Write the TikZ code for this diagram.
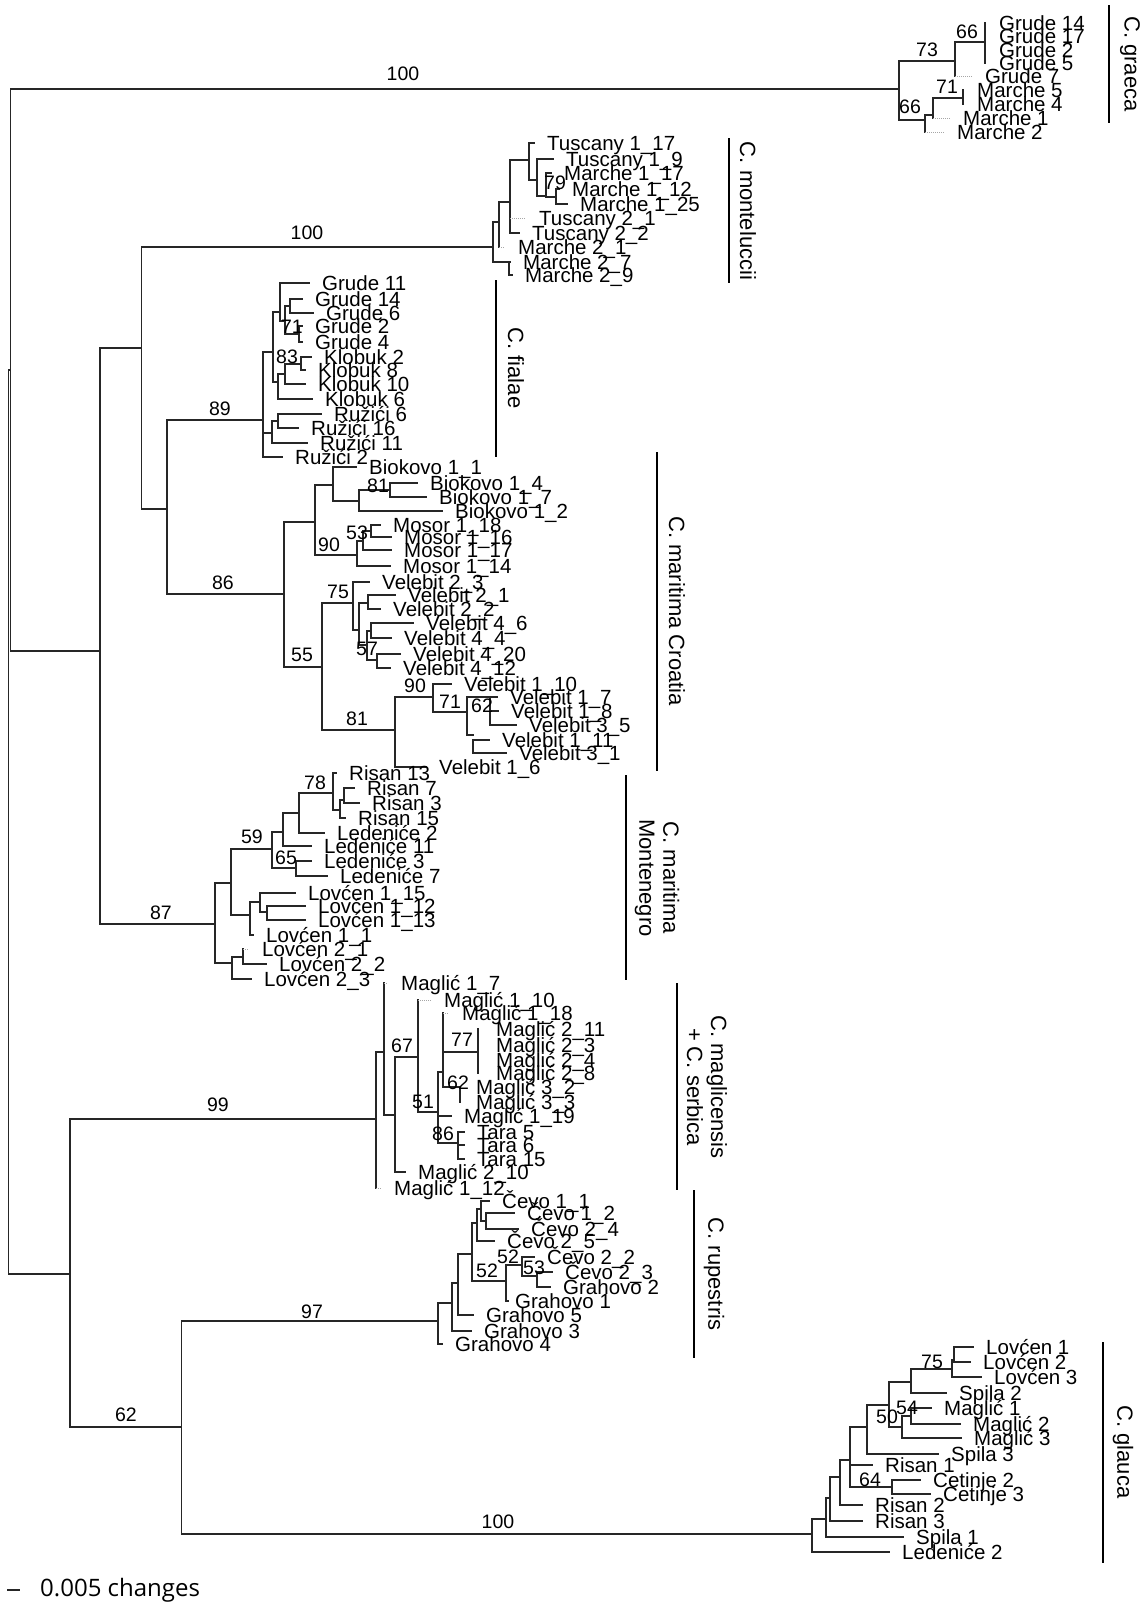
\documentclass[tikz,border=0pt]{standalone}
\usepackage{fontspec}
\setmainfont{Liberation Sans}
\newfontfamily\scalefont{Open Sans}

% branch helpers: vertical at x, horizontal at y, leaf with label, support value
\newcommand{\vln}[3]{\draw[branch] (#1,#2) -- (#1,#3);}
\newcommand{\hln}[3]{\draw[branch] (#1,#3) -- (#2,#3);}
\newcommand{\tipl}[6][13]{\draw[branch] (#3,#5) -- (#4,#5);
  \node[leaf] (#2) at ({#4+#1},{#5+7.2}) {#6};}
\newcommand{\tipg}[6][13]{\draw[faint] (#3,#5) -- (#4,#5);
  \node[leaf] (#2) at ({#4+#1},{#5+7.2}) {#6};}
\newcommand{\supp}[4]{\node[boot] (#1) at (#2,#3) {#4};}

\begin{document}
\begin{tikzpicture}[x=1pt, y=-1pt,
    branch/.style={draw=black!85, line width=1.1pt, line cap=rect},
    faint/.style={draw=black!35, line width=1pt, densely dotted},
    leaf/.style={anchor=base west, inner sep=0pt, font=\fontsize{20.5}{20.5}\selectfont},
    boot/.style={inner sep=0pt, font=\fontsize{19.5}{19.5}\selectfont},
    clade/.style={draw=black, line width=2.6pt},
    cladelab/.style={rotate=-90, align=center, inner sep=0pt,
      font=\fontsize{22}{24}\selectfont}]
  \useasboundingbox (0,0) rectangle (1142,1604);

  % ── Backbone ──
  \vln{8.3}{370}{1274}
  \hln{8.3}{10.7}{370}
  \vln{10.7}{89}{651}
  \hln{10.7}{899}{89}
  \hln{10.7}{100}{651}
  \vln{100}{348}{924}
  \hln{100}{141.7}{348}
  \vln{141.7}{247}{509}
  \hln{141.7}{493}{247}
  \hln{141.7}{167}{509}
  \vln{167}{420}{594}
  \hln{167}{263}{420}
  \hln{167}{284}{594}
  \hln{100}{215}{924}
  \hln{8.3}{70}{1274}
  \vln{70}{1119}{1427}
  \hln{70}{376}{1119}
  \hln{70}{181.7}{1427}
  \vln{181.7}{1321}{1534}
  \hln{181.7}{438}{1321}
  \hln{181.7}{812}{1534}
  \supp{b1}{403}{74}{100}
  \supp{b2}{307}{233}{100}
  \supp{b3}{220}{409}{89}
  \supp{b4}{223}{583}{86}
  \supp{b5}{161}{913}{87}
  \supp{b6}{218}{1105}{99}
  \supp{b7}{126}{1415}{62}
  \supp{b8}{312}{1312}{97}
  \supp{b9}{498}{1522}{100}

  % ── C. graeca ──
  \vln{899}{61}{120}
  \hln{899}{955}{61}
  \vln{955}{42}{76}
  \hln{955}{985}{42}
  \vln{985}{23}{63}
  \foreach \nm/\yy in {14/23, 17/36, 2/50, 5/63}
    \tipl[14]{gg\nm}{985}{985}{\yy}{Grude \nm};
  \tipg{gg7}{955}{972}{76}{Grude 7}
  \hln{899}{925}{120}
  \vln{925}{115}{132}
  \hln{925}{933}{115}
  \vln{933}{98}{118}
  \hln{933}{963}{98}
  \vln{963}{90}{104}
  \foreach \nm/\yy in {5/90, 4/104}
    \tipl[14]{gm\nm}{963}{963}{\yy}{Marche \nm};
  \tipg{gm1}{933}{950}{118}{Marche 1}
  \tipg{gm2}{925}{944}{132}{Marche 2}
  \supp{g1}{927}{50}{73}
  \supp{g2}{967}{32}{66}
  \supp{g3}{947}{87}{71}
  \supp{g4}{910}{107}{66}

  % ── C. monteluccii ──
  \vln{493}{222}{262}
  \hln{493}{499}{222}
  \hln{493}{509}{262}
  \vln{509}{262}{275}
  \tipl{m27}{509}{510}{262}{Marche 2\_7}
  \tipl{m29}{509}{512}{275}{Marche 2\_9}
  \vln{499}{202}{247}
  \hln{499}{510}{202}
  \tipg{m21}{499}{505}{247}{Marche 2\_1}
  \vln{510}{160}{233}
  \hln{510}{529}{160}
  \tipg{t21}{510}{526}{218}{Tuscany 2\_1}
  \tipl{t22}{510}{519}{233}{Tuscany 2\_2}
  \vln{529}{143}{180}
  \tipl{t117}{529}{534}{143}{Tuscany 1\_17}
  \hln{529}{537}{180}
  \vln{537}{159}{196}
  \tipl{t19}{537}{553}{159}{Tuscany 1\_9}
  \hln{537}{546}{196}
  \vln{546}{173}{197}
  \tipl{m117}{546}{551}{173}{Marche 1\_17}
  \hln{546}{556}{197}
  \vln{556}{189}{204}
  \tipl{m112}{556}{559}{189}{Marche 1\_12}
  \tipl{m125}{556}{567}{204}{Marche 1\_25}
  \supp{m1}{555}{183}{79}

  % ── C. fialae ──
  \vln{263}{352}{457}
  \hln{263}{273}{352}
  \hln{263}{272}{433}
  \tipl{ru2}{263}{282}{457}{Ružići 2}
  \vln{273}{312}{382}
  \hln{273}{280}{312}
  \hln{273}{278}{382}
  \vln{280}{283}{321}
  \tipl{gf11}{280}{309}{283}{Grude 11}
  \hln{280}{285}{321}
  \vln{285}{306}{334}
  \hln{285}{290}{306}
  \hln{285}{299}{334}
  \vln{290}{299}{313}
  \tipl{gf14}{290}{302}{299}{Grude 14}
  \tipl{gf6}{290}{313}{313}{Grude 6}
  \vln{299}{326}{342}
  \tipl{gf2}{299}{302}{326}{Grude 2}
  \tipl{gf4}{299}{302}{342}{Grude 4}
  \vln{278}{374}{399}
  \hln{278}{285}{374}
  \tipl{kl6}{278}{312}{399}{Klobuk 6}
  \vln{285}{364}{384}
  \hln{285}{301}{364}
  \tipl{kl10}{285}{305}{384}{Klobuk 10}
  \vln{301}{357}{370}
  \tipl{kl2}{301}{311}{357}{Klobuk 2}
  \tipl{kl8}{301}{305}{370}{Klobuk 8}
  \vln{272}{421}{443}
  \hln{272}{278}{421}
  \vln{278}{414}{428}
  \tipl{ru6}{278}{321}{414}{Ružići 6}
  \tipl{ru16}{278}{298}{428}{Ružići 16}
  \tipl{ru11}{272}{307}{443}{Ružići 11}
  \supp{f1}{292}{327}{71}
  \supp{f2}{287}{357}{83}

  % ── C. maritima Croatia ──
  \vln{284}{522}{667}
  \hln{284}{315}{522}
  \hln{284}{322}{667}
  \vln{315}{485}{555}
  \hln{315}{333}{485}
  \hln{315}{357}{555}
  \vln{333}{467}{501}
  \tipl{bk11}{333}{356}{467}{Biokovo 1\_1}
  \hln{333}{359}{501}
  \vln{359}{490}{511}
  \hln{359}{390}{490}
  \vln{390}{483}{497}
  \tipl{bk14}{390}{417}{483}{Biokovo 1\_4}
  \tipl{bk17}{390}{426}{497}{Biokovo 1\_7}
  \tipl{bk12}{359}{442}{511}{Biokovo 1\_2}
  \vln{357}{541}{566}
  \hln{357}{363}{541}
  \vln{363}{531}{550}
  \hln{363}{371}{531}
  \vln{371}{525}{537}
  \tipl{ms118}{371}{380}{525}{Mosor 1\_18}
  \tipl{ms116}{371}{391}{537}{Mosor 1\_16}
  \tipl{ms117}{363}{391}{550}{Mosor 1\_17}
  \tipl{ms114}{357}{390}{566}{Mosor 1\_14}
  \vln{322}{603}{730}
  \hln{322}{353}{603}
  \hln{322}{395}{730}
  \vln{353}{582}{630}
  \tipl{v23}{353}{369}{582}{Velebit 2\_3}
  \hln{353}{359}{630}
  \vln{359}{603}{645}
  \hln{359}{368}{603}
  \vln{368}{595}{609}
  \tipl{v21}{368}{395}{595}{Velebit 2\_1}
  \tipl{v22}{368}{380}{609}{Velebit 2\_2}
  \hln{359}{367}{645}
  \vln{367}{631}{660}
  \hln{367}{371}{631}
  \vln{371}{623}{638}
  \tipl{v46}{371}{413}{623}{Velebit 4\_6}
  \tipl{v44}{371}{391}{638}{Velebit 4\_4}
  \hln{367}{377}{660}
  \vln{377}{654}{668}
  \tipl{v420}{377}{400}{654}{Velebit 4\_20}
  \tipl{v412}{377}{390}{668}{Velebit 4\_12}
  \vln{395}{697}{767}
  \hln{395}{433}{697}
  \tipl{v16}{395}{426}{767}{Velebit 1\_6}
  \vln{433}{684}{712}
  \tipl{v110}{433}{451}{684}{Velebit 1\_10}
  \hln{433}{467}{712}
  \vln{467}{697}{735}
  \hln{467}{490}{697}
  \vln{490}{697}{725}
  \tipl{v17}{490}{497}{697}{Velebit 1\_7}
  \tipl{v18}{490}{498}{711}{Velebit 1\_8}
  \tipl{v35}{490}{516}{725}{Velebit 3\_5}
  \hln{467}{473}{735}
  \vln{473}{740}{753}
  \tipl{v111}{473}{489}{740}{Velebit 1\_11}
  \tipl{v31}{473}{506}{753}{Velebit 3\_1}
  \supp{c1}{378}{486}{81}
  \supp{c2}{329}{545}{90}
  \supp{c3}{357}{533}{53}
  \supp{c4}{302}{655}{55}
  \supp{c5}{338}{592}{75}
  \supp{c6}{367}{649}{57}
  \supp{c7}{357}{719}{81}
  \supp{c8}{415}{686}{90}
  \supp{c9}{450}{702}{71}
  \supp{c10}{482}{706}{62}

  % ── C. maritima Montenegro ──
  \vln{215}{883}{963}
  \hln{215}{231}{883}
  \hln{215}{232}{963}
  \vln{231}{849}{915}
  \hln{231}{272}{849}
  \hln{231}{250}{915}
  \vln{272}{832}{868}
  \hln{272}{283}{832}
  \hln{272}{296}{868}
  \vln{283}{813}{846}
  \hln{283}{299}{813}
  \tipl{le11}{283}{311}{846}{Ledeniće 11}
  \vln{299}{793}{833}
  \hln{299}{333}{793}
  \tipl{le2}{299}{324}{833}{Ledeniće 2}
  \vln{333}{773}{810}
  \tipl{ri13}{333}{336}{773}{Risan 13}
  \hln{333}{340}{810}
  \vln{340}{800}{818}
  \hln{340}{344}{800}
  \tipl{ri15}{340}{345}{818}{Risan 15}
  \vln{344}{788}{803}
  \tipl{ri7}{344}{354}{788}{Risan 7}
  \tipl{ri3}{344}{359}{803}{Risan 3}
  \vln{296}{861}{876}
  \tipl{le3}{296}{311}{861}{Ledeniće 3}
  \tipl{le7}{296}{327}{876}{Ledeniće 7}
  \vln{250}{902}{935}
  \hln{250}{260}{902}
  \tipl{lo11}{250}{253}{935}{Lovćen 1\_1}
  \vln{260}{893}{912}
  \tipl{lo115}{260}{295}{893}{Lovćen 1\_15}
  \hln{260}{267}{912}
  \vln{267}{906}{920}
  \tipl{lo112}{267}{305}{906}{Lovćen 1\_12}
  \tipl{lo113}{267}{305}{920}{Lovćen 1\_13}
  \vln{232}{957}{979}
  \hln{232}{243}{957}
  \tipl{lo23}{232}{251}{979}{Lovćen 2\_3}
  \vln{243}{949}{964}
  \tipg{lo21}{243}{249}{949}{Lovćen 2\_1}
  \tipl{lo22}{243}{266}{964}{Lovćen 2\_2}
  \supp{n1}{315}{783}{78}
  \supp{n2}{252}{837}{59}
  \supp{n3}{286}{858}{65}

  % ── C. maglicensis + C. serbica ──
  \vln{376}{1052}{1188}
  \hln{376}{384}{1052}
  \tipg{mg112}{376}{381}{1188}{Maglić 1\_12}
  \vln{384}{983}{1115}
  \tipg{mg17}{384}{388}{983}{Maglić 1\_7}
  \hln{384}{395}{1115}
  \vln{395}{1057}{1172}
  \hln{395}{418}{1057}
  \tipl{mg210}{395}{405}{1172}{Maglić 2\_10}
  \vln{418}{1000}{1112}
  \tipg{mg110}{418}{431}{1000}{Maglić 1\_10}
  \hln{418}{438}{1112}
  \vln{438}{1072}{1143}
  \hln{438}{443}{1072}
  \tipl{mg119}{438}{451}{1116}{Maglić 1\_19}
  \hln{438}{458}{1143}
  \vln{443}{1013}{1087}
  \tipg{mg118}{443}{449}{1013}{Maglić 1\_18}
  \hln{443}{478}{1052}
  \hln{443}{460}{1087}
  \vln{478}{1029}{1073}
  \foreach \nm/\lab/\yy in {a/2\_11/1029, b/2\_3/1045, c/2\_4/1060, d/2\_8/1073}
    \tipl[18]{mq\nm}{478}{478}{\yy}{Maglić \lab};
  \vln{460}{1087}{1102}
  \foreach \nm/\lab/\yy in {a/3\_2/1087, b/3\_3/1102}
    \tipl[16]{mt\nm}{460}{460}{\yy}{Maglić \lab};
  \vln{458}{1132}{1159}
  \foreach \nm/\yy in {5/1132, 6/1145, 15/1159}
    \tipl{ta\nm}{458}{464}{\yy}{Tara \nm};
  \supp{p1}{402}{1046}{67}
  \supp{p2}{462}{1040}{77}
  \supp{p3}{458}{1083}{62}
  \supp{p4}{423}{1102}{51}
  \supp{p5}{443}{1134}{86}

  % ── C. rupestris ──
  \vln{438}{1303}{1344}
  \hln{438}{452}{1303}
  \tipl{gh4}{438}{442}{1344}{Grahovo 4}
  \vln{452}{1283}{1331}
  \hln{452}{458}{1283}
  \tipl{gh3}{452}{471}{1331}{Grahovo 3}
  \vln{458}{1254}{1315}
  \hln{458}{472}{1254}
  \tipl{gh5}{458}{473}{1315}{Grahovo 5}
  \vln{472}{1223}{1281}
  \hln{472}{477}{1223}
  \hln{472}{506}{1281}
  \vln{477}{1209}{1241}
  \hln{477}{481}{1209}
  \tipl{cv25}{477}{494}{1241}{Čevo 2\_5}
  \vln{481}{1201}{1221}
  \tipl{cv11}{481}{489}{1201}{Čevo 1\_1}
  \hln{481}{486}{1221}
  \vln{486}{1213}{1229}
  \tipl{cv12}{486}{514}{1213}{Čevo 1\_2}
  \tipl{cv24}{486}{518}{1229}{Čevo 2\_4}
  \vln{506}{1265}{1301}
  \hln{506}{522}{1265}
  \tipl[7]{gh1}{506}{508}{1301}{Grahovo 1}
  \vln{522}{1257}{1276}
  \tipl{cv22}{522}{534}{1257}{Čevo 2\_2}
  \hln{522}{537}{1276}
  \vln{537}{1272}{1287}
  \tipl{cv23}{537}{552}{1272}{Čevo 2\_3}
  \tipl{gh2}{537}{550}{1287}{Grahovo 2}
  \supp{r1}{487}{1271}{52}
  \supp{r2}{508}{1257}{52}
  \supp{r3}{534}{1268}{53}

  % ── C. glauca ──
  \vln{812}{1519}{1552}
  \hln{812}{826}{1519}
  \tipl{gle2}{812}{889}{1552}{Ledeniće 2}
  \vln{826}{1498}{1537}
  \hln{826}{830}{1498}
  \tipl{gsp1}{826}{903}{1537}{Spila 1}
  \vln{830}{1477}{1521}
  \hln{830}{840}{1477}
  \tipl{gri3}{830}{862}{1521}{Risan 3}
  \vln{840}{1460}{1505}
  \hln{840}{850}{1460}
  \tipl{gri2}{840}{862}{1505}{Risan 2}
  \vln{850}{1427}{1487}
  \hln{850}{867}{1427}
  \tipl{gri1}{850}{872}{1465}{Risan 1}
  \hln{850}{892}{1487}
  \vln{892}{1480}{1494}
  \tipl{gce2}{892}{920}{1480}{Cetinje 2}
  \tipl{gce3}{892}{930}{1494}{Cetinje 3}
  \vln{867}{1405}{1454}
  \hln{867}{889}{1405}
  \tipl{gsp3}{867}{938}{1454}{Spila 3}
  \vln{889}{1382}{1427}
  \hln{889}{911}{1382}
  \hln{889}{902}{1427}
  \vln{911}{1369}{1393}
  \hln{911}{952}{1369}
  \tipl{gsp2}{911}{946}{1393}{Spila 2}
  \vln{952}{1360}{1377}
  \hln{952}{954}{1360}
  \tipl{glo3}{952}{981}{1377}{Lovćen 3}
  \vln{954}{1347}{1362}
  \tipl{glo1}{954}{973}{1347}{Lovćen 1}
  \tipl{glo2}{954}{970}{1362}{Lovćen 2}
  \vln{902}{1416}{1438}
  \hln{902}{911}{1416}
  \tipl{gmg3}{902}{961}{1438}{Maglić 3}
  \vln{911}{1408}{1424}
  \tipl{gmg1}{911}{931}{1408}{Maglić 1}
  \tipl{gmg2}{911}{960}{1424}{Maglić 2}
  \supp{l1}{932}{1362}{75}
  \supp{l2}{887}{1417}{50}
  \supp{l3}{907}{1408}{54}
  \supp{l4}{870}{1480}{64}

  % ── Clade bars ──
  \draw[clade] (1109,5) -- (1109,123);
  \node[cladelab] (kgra) at (1130,64) {C. graeca};
  \draw[clade] (729,138) -- (729,283);
  \node[cladelab] (kmon) at (748,211) {C. monteluccii};
  \draw[clade] (496,280) -- (496,457);
  \node[cladelab] (kfia) at (516,368) {C. fialae};
  \draw[clade] (657,452) -- (657,771);
  \node[cladelab] (kcro) at (677,611) {C. maritima Croatia};
  \draw[clade] (626,775) -- (626,980);
  \node[cladelab] (kmne) at (657,878) {C. maritima\\Montenegro};
  \draw[clade] (677,983) -- (677,1190);
  \node[cladelab] (kmag) at (707,1087) {C. maglicensis\\+ C. serbica};
  \draw[clade] (694,1190) -- (694,1358);
  \node[cladelab] (krup) at (714,1274) {C. rupestris};
  \draw[clade] (1103,1342) -- (1103,1563);
  \node[cladelab] (kgla) at (1123,1452) {C. glauca};

  % ── Scale ──
  \draw[branch, line width=1.3pt] (8,1590) -- (19,1590);
  \node[anchor=west, inner sep=0pt, font=\scalefont\fontsize{24}{24}\selectfont]
    (scale) at (40,1590) {0.005 changes};
\end{tikzpicture}
\end{document}
